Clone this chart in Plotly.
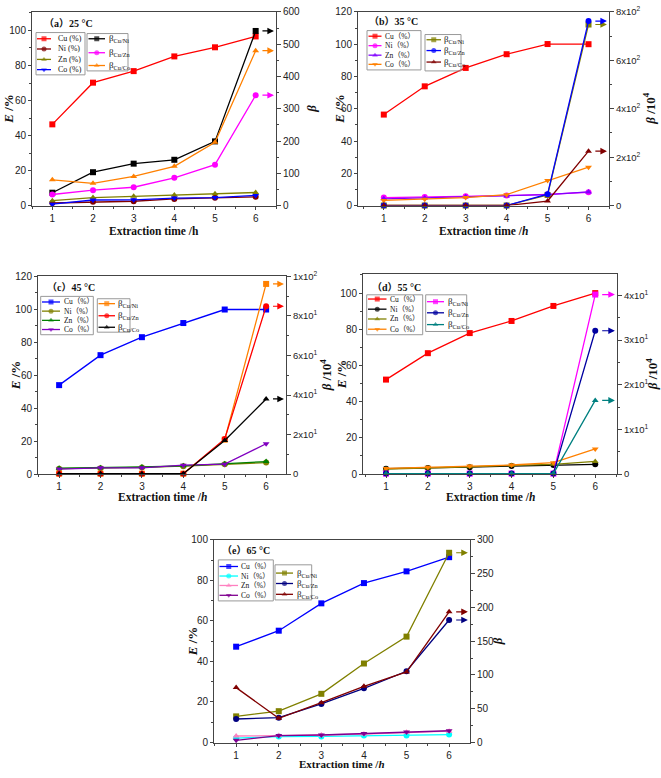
import plotly.graph_objects as go

W, H = 661, 778

hours = [1, 2, 3, 4, 5, 6]

# ---- (a) 25 °C ----
a_cu = [46.4, 70.2, 76.8, 85.2, 90.4, 96.6]
a_ni = [1.5, 2.2, 2.5, 3.8, 4.5, 5.0]
a_zn = [2.8, 4.6, 5.3, 6.0, 6.8, 7.5]
a_co = [0.8, 3.2, 3.3, 4.3, 4.6, 5.8]
a_b_ni = [40, 103.5, 130, 142, 199, 541]
a_b_zn = [34.5, 47.7, 56.9, 86.3, 127, 342]
a_b_co = [80, 69, 90.4, 121.8, 196, 480]

# ---- (b) 35 °C ----
b_cu = [56.4, 73.9, 85.3, 93.8, 100.1, 100.0]
b_ni = [5.0, 5.3, 5.8, 6.2, 7.0, 8.3]
b_zn = [4.2, 4.8, 5.5, 6.0, 6.8, 8.5]
b_co = [3.2, 4.0, 5.0, 6.8, 15.5, 23.8]
b_b_ni = [0.5, 0.5, 0.5, 0.5, 44, 748]
b_b_zn = [0.3, 0.3, 0.3, 0.3, 47, 762]
b_b_co = [0.5, 0.5, 0.5, 0.5, 19, 225]

# ---- (c) 45 °C ----
c_cu = [54.0, 72.2, 83.1, 91.7, 99.9, 99.9]
c_ni = [3.3, 3.6, 4.0, 4.8, 6.0, 7.0]
c_zn = [3.6, 3.9, 4.3, 5.0, 6.2, 7.6]
c_co = [3.0, 3.8, 3.8, 5.4, 6.0, 18.4]
c_b_ni = [0.2, 0.2, 0.2, 0.2, 17.4, 96.2]
c_b_zn = [0.2, 0.2, 0.2, 0.2, 17.8, 84.9]
c_b_co = [0.2, 0.2, 0.2, 0.2, 17.0, 38.0]

# ---- (d) 55 °C ----
d_cu = [52.2, 66.8, 77.9, 84.6, 92.9, 100.0]
d_ni = [3.0, 3.3, 3.8, 4.4, 5.0, 5.4]
d_zn = [2.8, 3.3, 4.0, 4.8, 5.4, 7.0]
d_co = [3.1, 3.8, 4.5, 5.0, 6.3, 13.9]
d_b_ni = [0.1, 0.1, 0.1, 0.1, 0.1, 40.2]
d_b_zn = [0.1, 0.1, 0.1, 0.1, 0.1, 32.1]
d_b_co = [0.1, 0.1, 0.1, 0.1, 0.1, 16.5]

# ---- (e) 65 °C ----
e_cu = [47.3, 55.2, 68.7, 78.7, 84.5, 91.5]
e_ni = [2.2, 2.9, 3.0, 3.4, 3.5, 3.9]
e_zn = [3.2, 3.4, 3.7, 4.2, 5.0, 5.6]
e_co = [1.1, 3.4, 3.7, 4.4, 5.2, 5.8]
e_b_ni = [38.7, 46.4, 72.1, 117, 156.8, 281]
e_b_zn = [34.8, 36.8, 57.1, 80.3, 105.5, 181.4]
e_b_co = [81.3, 35.8, 59, 83.2, 104.5, 193.5]

panel_titles = ["（a）25 °C", "（b）35 °C", "（c）45 °C", "（d）55 °C", "（e）65 °C"]
elem_labels_a = ["Cu (%)", "Ni (%)", "Zn (%)", "Co (%)"]
elem_labels = ["Cu（%）", "Ni（%）", "Zn（%）", "Co（%）"]
beta_labels = ["β<sub>Cu/Ni</sub>", "β<sub>Cu/Zn</sub>", "β<sub>Cu/Co</sub>"]

x_tick_vals = [1, 2, 3, 4, 5, 6]
b_right_vals = [0, 200, 400, 600, 800]
b_right_text = ["0", "2x10<sup>2</sup>", "4x10<sup>2</sup>", "6x10<sup>2</sup>", "8x10<sup>2</sup>"]
c_right_vals = [0, 20, 40, 60, 80, 100]
c_right_text = ["0", "2x10<sup>1</sup>", "4x10<sup>1</sup>", "6x10<sup>1</sup>", "8x10<sup>1</sup>", "1x10<sup>2</sup>"]
d_right_vals = [0, 10, 20, 30, 40]
d_right_text = ["0", "1x10<sup>1</sup>", "2x10<sup>1</sup>", "3x10<sup>1</sup>", "4x10<sup>1</sup>"]

SERIF = "Liberation Serif, Times New Roman, Noto Sans CJK SC, serif"
SANS = "Liberation Sans, Arial, sans-serif"
AXC = "#444444"

RED, MAROON, OLIVE, BLUE = "#FF0000", "#800000", "#808000", "#0000FF"
BLACK, MAGENTA, ORANGE = "#000000", "#FF00FF", "#FF8000"

panels = [
    dict(elem=[a_cu, a_ni, a_zn, a_co], beta=[a_b_ni, a_b_zn, a_b_co],
         ecol=[RED, MAROON, OLIVE, BLUE], bcol=[BLACK, MAGENTA, ORANGE],
         xpx=(32, 276), ypx=(5, 202), xr=[0.5, 6.5], ylr=[0, 110.6], yrr=[0, 600],
         yl_dtick=20, yr_vals=[0, 100, 200, 300, 400, 500, 600], yr_text=None, yr_minor=50,
         elabels=elem_labels_a, xtitle="<b>Extraction time /h</b>", xt_y=228,
         ytitle_x=9, rtitle_x=312, rtitle="<b><i>β</i></b>",
         label=(42, 17),
         box1=(36, 26, 85, 69), rows1=[32.3, 42.7, 53.3, 63.7], samp1=(37, 51), txt1=56,
         box2=(87, 27, 128, 65), rows2=[32.3, 46.5, 59.5], samp2=(88.5, 105), txt2=106.5),
    dict(elem=[b_cu, b_ni, b_zn, b_co], beta=[b_b_ni, b_b_zn, b_b_co],
         ecol=[RED, MAGENTA, "#8000FF", ORANGE], bcol=[OLIVE, BLUE, MAROON],
         xpx=(358, 609), ypx=(5, 202), xr=[0.37, 6.5], ylr=[0, 120], yrr=[0, 800],
         yl_dtick=20, yr_vals=b_right_vals, yr_text=b_right_text, yr_minor=100,
         elabels=elem_labels, xtitle="<b>Extraction time /<i>h</i></b>", xt_y=228,
         ytitle_x=340, rtitle_x=649, rtitle="<b><i>β</i> /10<sup>4</sup></b>",
         label=(367, 15),
         box1=(367, 24, 421, 64), rows1=[29.7, 39.3, 49, 58.3], samp1=(368.5, 381.5), txt1=383,
         box2=(425, 28, 461, 65), rows2=[33.3, 44.3, 56], samp2=(426.5, 441), txt2=441.5),
    dict(elem=[c_cu, c_ni, c_zn, c_co], beta=[c_b_ni, c_b_zn, c_b_co],
         ecol=[BLUE, OLIVE, "#008000", "#8000C0"], bcol=[ORANGE, RED, BLACK],
         xpx=(38, 286), ypx=(274, 475), xr=[0.49, 6.48], ylr=[0, 120], yrr=[0, 100],
         yl_dtick=20, yr_vals=c_right_vals, yr_text=c_right_text, yr_minor=10,
         elabels=elem_labels, xtitle="<b>Extraction time /<i>h</i></b>", xt_y=498.5,
         ytitle_x=15, rtitle_x=326, rtitle="<b><i>β</i> /10<sup>4</sup></b>",
         label=(45, 285.7),
         box1=(40.7, 294.3, 93.3, 333.3), rows1=[300, 309.3, 318.7, 328], samp1=(42, 60), txt1=61.5,
         box2=(97.3, 296.7, 130, 330.7), rows2=[301.7, 314, 325.7], samp2=(98.5, 115), txt2=116),
    dict(elem=[d_cu, d_ni, d_zn, d_co], beta=[d_b_ni, d_b_zn, d_b_co],
         ecol=[RED, BLACK, OLIVE, ORANGE], bcol=[MAGENTA, "#0000A0", "#008080"],
         xpx=(363, 617), ypx=(272, 475), xr=[0.45, 6.52], ylr=[0, 110.3], yrr=[0, 44.7],
         yl_dtick=20, yr_vals=d_right_vals, yr_text=d_right_text, yr_minor=5,
         elabels=elem_labels, xtitle="<b>Extraction time /<i>h</i></b>", xt_y=498.5,
         ytitle_x=341, rtitle_x=652, rtitle="<b><i>β</i> /10<sup>4</sup></b>",
         label=(370, 285),
         box1=(366.7, 292.7, 422.7, 333.3), rows1=[297, 307.3, 317.3, 327.7], samp1=(368, 386.5), txt1=388,
         box2=(425.7, 292.7, 466.7, 330), rows2=[299.7, 311, 323], samp2=(427, 444), txt2=445.5),
    dict(elem=[e_cu, e_ni, e_zn, e_co], beta=[e_b_ni, e_b_zn, e_b_co],
         ecol=[BLUE, "#00FFFF", "#FF80C0", "#800090"], bcol=[OLIVE, "#000080", MAROON],
         xpx=(214, 470), ypx=(542, 748), xr=[0.48, 6.49], ylr=[0, 100], yrr=[0, 300],
         yl_dtick=20, yr_vals=[0, 50, 100, 150, 200, 250, 300], yr_text=None, yr_minor=25,
         elabels=elem_labels, xtitle="<b>Extraction time /<i>h</i></b>", xt_y=None,
         ytitle_x=192, rtitle_x=497, rtitle="<b><i>β</i></b>",
         label=(220, 553),
         box1=(218.3, 562.3, 273.3, 604), rows1=[569, 578.7, 588.3, 598.3], samp1=(219.5, 238), txt1=239,
         box2=(275, 567.3, 311.7, 603), rows2=[575.7, 586.3, 597.3], samp2=(276, 293), txt2=294.5),
]

ESYM = ["square", "circle", "triangle-up", "triangle-down"]
BSYM = ["square", "circle", "triangle-up"]


def fx(p):
    return p / W


def fy(p):
    return 1 - p / H


def ref(prefix, n):
    return prefix + ("" if n == 1 else str(n))


def key(prefix, n):
    return prefix + "axis" + ("" if n == 1 else str(n))


fig = go.Figure()
layout = {}
annotations = []
shapes = []

LEG_X, LEG_Y = 6, 11  # overlay axes for legend keys (pixel space)

for i, p in enumerate(panels):
    xn = i + 1
    yl = 2 * i + 1
    yr = 2 * i + 2
    xd = [fx(p["xpx"][0]), fx(p["xpx"][1])]
    yd = [fy(p["ypx"][1]), fy(p["ypx"][0])]
    tickfont = dict(family=SANS, size=10, color="#222222")
    rtickfont = dict(family=SANS, size=9.5 if p["yr_text"] else 10, color="#222222")
    layout[key("x", xn)] = dict(
        domain=xd, range=p["xr"], anchor=ref("y", yl), tickvals=x_tick_vals,
        showline=True, linecolor=AXC, linewidth=1, mirror=True, ticks="outside",
        ticklen=3, tickcolor=AXC, showgrid=False, zeroline=False, tickfont=tickfont,
        minor=dict(ticks="outside", ticklen=2, dtick=0.5, tick0=0.5, tickcolor=AXC, showgrid=False))
    layout[key("y", yl)] = dict(
        domain=yd, range=p["ylr"], anchor=ref("x", xn), dtick=p["yl_dtick"], tick0=0,
        showline=True, linecolor=AXC, linewidth=1, ticks="outside", ticklen=3, tickcolor=AXC,
        showgrid=False, zeroline=False, tickfont=tickfont,
        minor=dict(ticks="outside", ticklen=2, dtick=p["yl_dtick"] / 2, tickcolor=AXC, showgrid=False))
    ry = dict(
        domain=yd, range=p["yrr"], anchor=ref("x", xn), overlaying=ref("y", yl), side="right",
        tickvals=p["yr_vals"], showline=True, linecolor=AXC, linewidth=1, ticks="outside",
        ticklen=4, tickcolor=AXC, showgrid=False, zeroline=False, tickfont=rtickfont,
        minor=dict(ticks="outside", ticklen=2, dtick=p["yr_minor"], tickcolor=AXC, showgrid=False))
    if p["yr_text"] is not None:
        ry["ticktext"] = p["yr_text"]
    layout[key("y", yr)] = ry

    for vals, col, sym in zip(p["elem"], p["ecol"], ESYM):
        fig.add_trace(go.Scatter(
            x=hours, y=vals, mode="lines+markers", xaxis=ref("x", xn), yaxis=ref("y", yl),
            line=dict(color=col, width=1.3), marker=dict(symbol=sym, size=6, color=col),
            showlegend=False, cliponaxis=False))
    for vals, col, sym in zip(p["beta"], p["bcol"], BSYM):
        fig.add_trace(go.Scatter(
            x=hours, y=vals, mode="lines+markers", xaxis=ref("x", xn), yaxis=ref("y", yr),
            line=dict(color=col, width=1.3), marker=dict(symbol=sym, size=6, color=col),
            showlegend=False, cliponaxis=False))
        # arrow pointing to the right axis
        annotations.append(dict(
            x=p["xr"][1] - 0.05, y=vals[-1], ax=6.13, ay=vals[-1],
            xref=ref("x", xn), yref=ref("y", yr), axref=ref("x", xn), ayref=ref("y", yr),
            text="", showarrow=True, arrowhead=2, arrowsize=1.1, arrowwidth=1.2, arrowcolor=col))

    # titles
    cx = (p["xpx"][0] + p["xpx"][1]) / 2
    cy = (p["ypx"][0] + p["ypx"][1]) / 2
    if p["xt_y"] is None:
        xt = dict(y=0, yanchor="bottom")
        xt_size = 11
    else:
        xt = dict(y=fy(p["xt_y"]), yanchor="middle")
        xt_size = 11.5
    annotations.append(dict(x=fx(cx), xref="paper", yref="paper",
                            xanchor="center", text=p["xtitle"], showarrow=False,
                            font=dict(family=SERIF, size=xt_size, color="#111111"), **xt))
    annotations.append(dict(x=fx(p["ytitle_x"]), y=fy(cy), xref="paper", yref="paper",
                            xanchor="center", yanchor="middle",
                            text="<b><i>E</i> /%</b>", textangle=-90, showarrow=False,
                            font=dict(family=SERIF, size=13, color="#111111")))
    annotations.append(dict(x=fx(p["rtitle_x"]), y=fy(cy), xref="paper", yref="paper",
                            xanchor="center", yanchor="middle",
                            text=p["rtitle"], textangle=-90, showarrow=False,
                            font=dict(family=SERIF, size=13, color="#111111")))
    annotations.append(dict(x=fx(p["label"][0]), y=fy(p["label"][1]), xref="paper", yref="paper",
                            xanchor="left", yanchor="middle", text="<b>" + panel_titles[i] + "</b>",
                            showarrow=False, font=dict(family=SERIF, size=10, color="#111111")))

    # legend boxes
    for box in (p["box1"], p["box2"]):
        shapes.append(dict(type="rect", xref="paper", yref="paper",
                           x0=fx(box[0]), x1=fx(box[2]), y0=fy(box[3]), y1=fy(box[1]),
                           line=dict(color="#999999", width=1), fillcolor="rgba(255,255,255,0)"))
    for labels, rows, samp, tx, cols, syms, fsize in (
            (p["elabels"], p["rows1"], p["samp1"], p["txt1"], p["ecol"], ESYM, 8 if i == 0 else 7.5),
            (beta_labels, p["rows2"], p["samp2"], p["txt2"], p["bcol"], BSYM, 9)):
        for lab, ry_, col, sym in zip(labels, rows, cols, syms):
            fig.add_trace(go.Scatter(
                x=[samp[0], (samp[0] + samp[1]) / 2, samp[1]], y=[ry_, ry_, ry_],
                mode="lines+markers", xaxis=ref("x", LEG_X), yaxis=ref("y", LEG_Y),
                line=dict(color=col, width=1.3),
                marker=dict(symbol=sym, size=[0, 5, 0], color=col, line=dict(width=0)),
                showlegend=False, hoverinfo="skip", cliponaxis=False))
            annotations.append(dict(x=fx(tx), y=fy(ry_), xref="paper", yref="paper",
                                    xanchor="left", yanchor="middle", text=lab, showarrow=False,
                                    font=dict(family=SERIF, size=fsize, color="#111111")))

layout[key("x", LEG_X)] = dict(domain=[0, 1], range=[0, W], visible=False, anchor=ref("y", LEG_Y),
                               fixedrange=True)
layout[key("y", LEG_Y)] = dict(domain=[0, 1], range=[H, 0], visible=False, anchor=ref("x", LEG_X),
                               fixedrange=True)

fig.update_layout(
    width=W, height=H, margin=dict(l=0, r=0, t=0, b=0),
    paper_bgcolor="white", plot_bgcolor="rgba(0,0,0,0)",
    showlegend=False, annotations=annotations, shapes=shapes, **layout)

POST = (
    "var s=document.createElement('style');"
    "s.textContent='html,body{margin:0;padding:0;width:661px;height:778px;overflow:hidden;}"
    "body>div{width:661px;height:778px;overflow:hidden;}';"
    "document.head.appendChild(s);"
)

fig.write_html("out.html", config={"displayModeBar": False}, post_script=POST)
